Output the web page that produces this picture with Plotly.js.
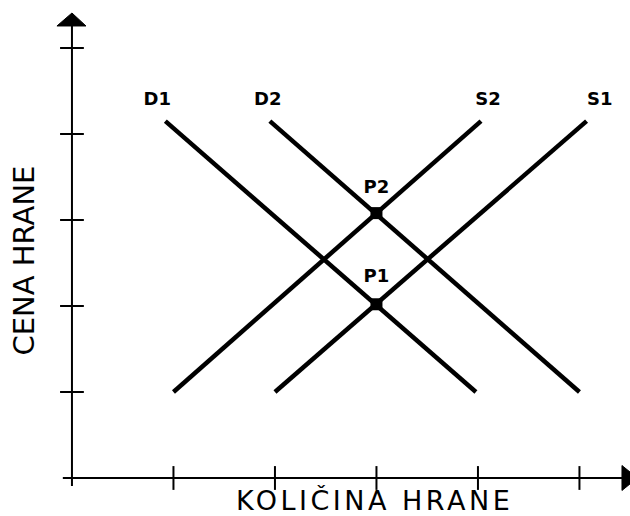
<!DOCTYPE html>
<html>
<head>
<meta charset="utf-8">
<script src="https://cdn.plot.ly/plotly-3.0.1.min.js"></script>
<style>
  html, body { margin: 0; padding: 0; background: #fff; }
  #chart { width: 630px; height: 516px; }
</style>
</head>
<body>
<div id="chart"></div>
<script>
// curves (quantity on x, price on y)
var d1X = [0.92, 3.98], d1Y = [4.15, 1.0];
var d2X = [1.95, 5.0],  d2Y = [4.15, 1.0];
var s2X = [1.0, 4.03],  s2Y = [1.0, 4.15];
var s1X = [2.0, 5.07],  s1Y = [1.0, 4.15];

// equilibrium points and their labels
var eqNames = ['P1', 'P2'];
var eqX = [3, 3];
var eqY = [2.02, 3.08];
var eqLabelY = [2.33, 3.37];

// curve labels
var curveNames = ['D1', 'D2', 'S2', 'S1'];
var curveLabelX = [0.84, 1.93, 4.1, 5.2];
var curveLabelY = [4.39, 4.39, 4.39, 4.39];

// tick positions on both axes
var qTicks = [1, 2, 3, 4, 5];
var pTicks = [1, 2, 3, 4, 5];

var labelFont = {family: 'DejaVu Sans', size: 18, color: '#000', weight: 'bold'};

function curve(x, y) {
    return {
        x: x, y: y,
        mode: 'lines',
        type: 'scatter',
        line: {color: '#000', width: 4.5},
        hoverinfo: 'skip',
    };
}

var traces = [
    curve(d1X, d1Y),
    curve(d2X, d2Y),
    curve(s2X, s2Y),
    curve(s1X, s1Y),
    {
        // ticks on the quantity axis
        x: qTicks,
        y: qTicks.map(function () { return 0; }),
        mode: 'markers',
        type: 'scatter',
        marker: {symbol: 'line-ns', size: 17, line: {color: '#000', width: 2}},
        cliponaxis: false,
    },
    {
        // ticks on the price axis
        x: pTicks.map(function () { return 0; }),
        y: pTicks,
        mode: 'markers',
        type: 'scatter',
        marker: {symbol: 'line-ew', size: 17, line: {color: '#000', width: 2}},
        cliponaxis: false,
    },
    {
        x: eqX, y: eqY,
        mode: 'markers',
        type: 'scatter',
        marker: {symbol: 'square', size: 12, color: '#000'},
        cliponaxis: false,
    },
    {
        x: eqX, y: eqLabelY,
        mode: 'text',
        type: 'scatter',
        text: eqNames,
        textfont: labelFont,
        cliponaxis: false,
    },
    {
        x: curveLabelX, y: curveLabelY,
        mode: 'text',
        type: 'scatter',
        text: curveNames,
        textfont: labelFont,
        cliponaxis: false,
    },
];

var layout = {
    width: 630,
    height: 516,
    margin: {l: 0, r: 0, t: 0, b: 0},
    paper_bgcolor: '#fff',
    plot_bgcolor: '#fff',
    showlegend: false,
    xaxis: {range: [-0.709, 5.498], visible: false, fixedrange: true},
    yaxis: {range: [-0.442, 5.558], visible: false, fixedrange: true},
    shapes: [
        // axes
        {type: 'line', xref: 'x', yref: 'y', x0: -0.09, y0: 0, x1: 5.45, y1: 0,
         line: {color: '#000', width: 2}},
        {type: 'line', xref: 'x', yref: 'y', x0: 0, y0: -0.093, x1: 0, y1: 5.3,
         line: {color: '#000', width: 2}},
        // arrow heads
        {type: 'path', xref: 'x', yref: 'y',
         path: 'M 5.419 0.145 L 5.57 0 L 5.419 -0.145 Z',
         fillcolor: '#000', line: {color: '#000', width: 1}},
        {type: 'path', xref: 'x', yref: 'y',
         path: 'M -0.148 5.256 L 0 5.407 L 0.138 5.256 Z',
         fillcolor: '#000', line: {color: '#000', width: 1}},
    ],
    annotations: [
        {
            text: '<span style="letter-spacing:3.5px">KOLIČINA HRANE</span>',
            xref: 'paper', yref: 'paper',
            x: 0.594, y: 0,
            xanchor: 'center', yanchor: 'bottom',
            yshift: -2,
            showarrow: false,
            font: {family: 'DejaVu Sans', size: 27, color: '#000'},
        },
        {
            text: 'CENA HRANE',
            xref: 'paper', yref: 'paper',
            x: 0.038, y: 0.495,
            xanchor: 'center', yanchor: 'middle',
            textangle: -90,
            showarrow: false,
            font: {family: 'DejaVu Sans', size: 29, color: '#000'},
        },
    ],
};

Plotly.newPlot(document.getElementById('chart'), traces, layout, {displayModeBar: false, staticPlot: true});
</script>
</body>
</html>
